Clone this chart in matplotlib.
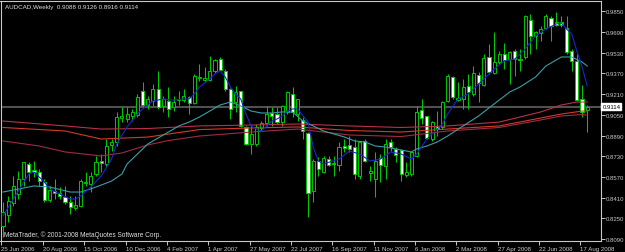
import matplotlib
matplotlib.use("Agg")
import matplotlib.pyplot as plt
import matplotlib.transforms as mtransforms
from matplotlib.patches import Rectangle

# weekly AUDCAD candles
opens = [0.8190, 0.8276, 0.8368, 0.8438, 0.8554, 0.8670, 0.8623, 0.8608, 0.8531, 0.8391,
         0.8461, 0.8446, 0.8415, 0.8376, 0.8330, 0.8345, 0.8523, 0.8515, 0.8592, 0.8693,
         0.8670, 0.8817, 0.8840, 0.9025, 0.9018, 0.9041, 0.9048, 0.9234, 0.9126, 0.9157,
         0.9250, 0.9118, 0.9157, 0.9110, 0.9164, 0.9164, 0.9188, 0.9141, 0.9334, 0.9319,
         0.9319, 0.9389, 0.9481, 0.9389, 0.9250, 0.9149, 0.9234, 0.8956, 0.8824, 0.8824,
         0.8948, 0.8987, 0.9064, 0.9056, 0.8994, 0.9072, 0.9211, 0.9056, 0.9010, 0.8909,
         0.8461, 0.8693, 0.8608, 0.8708, 0.8678, 0.8662, 0.8809, 0.8817, 0.8801, 0.8577,
         0.8848, 0.8600, 0.8554, 0.8716, 0.8654, 0.8840, 0.8786, 0.8778, 0.8585, 0.8592,
         0.8732, 0.9087, 0.9041, 0.8863, 0.8964, 0.8956, 0.9157, 0.9342, 0.9164, 0.9172,
         0.9273, 0.9211, 0.9358, 0.9280, 0.9497, 0.9373, 0.9458, 0.9520, 0.9481, 0.9543,
         0.9474, 0.9497, 0.9783, 0.9659, 0.9682, 0.9721, 0.9798, 0.9767, 0.9767, 0.9721,
         0.9543, 0.9466, 0.9172, 0.9088]
highs = [0.8376, 0.8422, 0.8577, 0.8616, 0.8685, 0.8685, 0.8693, 0.8631, 0.8554, 0.8500,
         0.8554, 0.8492, 0.8500, 0.8422, 0.8422, 0.8554, 0.8608, 0.8608, 0.8732, 0.8747,
         0.8863, 0.8863, 0.9072, 0.9110, 0.9110, 0.9095, 0.9211, 0.9304, 0.9195, 0.9288,
         0.9389, 0.9195, 0.9265, 0.9195, 0.9234, 0.9250, 0.9195, 0.9365, 0.9443, 0.9420,
         0.9505, 0.9481, 0.9497, 0.9404, 0.9257, 0.9273, 0.9234, 0.8964, 0.8971, 0.8979,
         0.9002, 0.9118, 0.9110, 0.9110, 0.9126, 0.9234, 0.9265, 0.9172, 0.9033, 0.8917,
         0.8708, 0.8724, 0.8732, 0.8732, 0.8732, 0.8840, 0.8863, 0.8886, 0.8863, 0.8848,
         0.8863, 0.8654, 0.8763, 0.8747, 0.8863, 0.8863, 0.8801, 0.8786, 0.8685, 0.8770,
         0.9118, 0.9172, 0.9041, 0.9002, 0.9079, 0.9157, 0.9365, 0.9350, 0.9304, 0.9327,
         0.9365, 0.9427, 0.9381, 0.9520, 0.9597, 0.9690, 0.9543, 0.9605, 0.9543, 0.9559,
         0.9559, 0.9818, 0.9829, 0.9698, 0.9737, 0.9829, 0.9814, 0.9845, 0.9814, 0.9814,
         0.9559, 0.9520, 0.9280, 0.9126]
lows = [0.8105, 0.8221, 0.8345, 0.8399, 0.8500, 0.8538, 0.8569, 0.8500, 0.8376, 0.8376,
        0.8399, 0.8399, 0.8361, 0.8283, 0.8314, 0.8337, 0.8500, 0.8453, 0.8577, 0.8608,
        0.8647, 0.8770, 0.8809, 0.8994, 0.8994, 0.9002, 0.9033, 0.9110, 0.9095, 0.9118,
        0.9095, 0.9072, 0.9033, 0.9079, 0.9126, 0.9149, 0.9056, 0.9134, 0.9311, 0.9304,
        0.9311, 0.9373, 0.9389, 0.9234, 0.9018, 0.9072, 0.8956, 0.8817, 0.8747, 0.8809,
        0.8925, 0.8964, 0.8964, 0.8979, 0.8964, 0.9056, 0.9033, 0.9002, 0.8863, 0.8260,
        0.8376, 0.8577, 0.8600, 0.8654, 0.8577, 0.8616, 0.8763, 0.8763, 0.8554, 0.8554,
        0.8685, 0.8538, 0.8415, 0.8531, 0.8554, 0.8770, 0.8685, 0.8538, 0.8569, 0.8577,
        0.8724, 0.8979, 0.8863, 0.8848, 0.8886, 0.8940, 0.9149, 0.9172, 0.9157, 0.9095,
        0.9095, 0.9195, 0.9149, 0.9273, 0.9365, 0.9365, 0.9443, 0.9404, 0.9288, 0.9350,
        0.9389, 0.9481, 0.9520, 0.9559, 0.9621, 0.9713, 0.9621, 0.9737, 0.9729, 0.9520,
        0.9389, 0.9157, 0.9033, 0.8916]
closes = [0.8299, 0.8384, 0.8500, 0.8554, 0.8685, 0.8608, 0.8608, 0.8538, 0.8391, 0.8469,
          0.8446, 0.8426, 0.8376, 0.8337, 0.8353, 0.8538, 0.8531, 0.8577, 0.8685, 0.8678,
          0.8809, 0.8840, 0.9033, 0.9041, 0.9056, 0.9072, 0.9188, 0.9126, 0.9172, 0.9250,
          0.9110, 0.9172, 0.9095, 0.9149, 0.9176, 0.9195, 0.9141, 0.9350, 0.9342, 0.9334,
          0.9389, 0.9474, 0.9396, 0.9250, 0.9095, 0.9226, 0.8964, 0.8824, 0.8902, 0.8956,
          0.8987, 0.9056, 0.9041, 0.8994, 0.9118, 0.9226, 0.9072, 0.9172, 0.8925, 0.8446,
          0.8693, 0.8631, 0.8716, 0.8662, 0.8670, 0.8801, 0.8793, 0.8786, 0.8592, 0.8840,
          0.8693, 0.8616, 0.8693, 0.8662, 0.8824, 0.8801, 0.8739, 0.8592, 0.8608, 0.8763,
          0.9072, 0.9025, 0.8871, 0.8994, 0.8940, 0.9149, 0.9350, 0.9188, 0.9180, 0.9265,
          0.9226, 0.9373, 0.9296, 0.9489, 0.9381, 0.9458, 0.9520, 0.9474, 0.9536, 0.9481,
          0.9485, 0.9814, 0.9659, 0.9690, 0.9713, 0.9814, 0.9737, 0.9744, 0.9744, 0.9536,
          0.9466, 0.9164, 0.9072, 0.9114]

# moving averages (at bar positions)
fast_bars = [0, 2, 5, 6, 8, 9, 11, 13, 14, 15, 17, 19, 21, 22, 24, 26, 27, 29, 31, 33,
             35, 36, 37, 38, 40, 41, 42, 43, 44, 45, 46, 47, 48, 49, 50, 51, 52, 53, 54, 55,
             56, 57, 59, 60, 61, 62, 65, 67, 69, 71, 73, 75, 77, 79, 80, 82, 85, 86, 88, 90,
             92, 95, 97, 99, 101, 103, 105, 107, 108, 109, 110, 111, 112, 113]
fast_ma = [0.8268, 0.8399, 0.8592, 0.8608, 0.8531, 0.8477, 0.8438, 0.8399, 0.8399, 0.8422,
           0.8492, 0.8577, 0.8708, 0.8824, 0.8956, 0.9056, 0.9095, 0.9157, 0.9172, 0.9164,
           0.9172, 0.9172, 0.9211, 0.9265, 0.9327, 0.9365, 0.9389, 0.9342, 0.9265, 0.9211,
           0.9172, 0.9056, 0.8964, 0.8940, 0.8925, 0.8964, 0.9002, 0.9018, 0.9041, 0.9079,
           0.9095, 0.9095, 0.8994, 0.8801, 0.8693, 0.8670, 0.8708, 0.8770, 0.8747, 0.8693,
           0.8708, 0.8763, 0.8747, 0.8708, 0.8747, 0.8863, 0.8979, 0.9056, 0.9172, 0.9211,
           0.9288, 0.9404, 0.9466, 0.9481, 0.9559, 0.9659, 0.9713, 0.9752, 0.9760, 0.9713,
           0.9675, 0.9543, 0.9420, 0.9273]
mid_bars = [0, 6, 9, 13, 15, 17, 19, 21, 23, 24, 26, 28, 30, 32, 34, 36, 38, 40, 42, 44,
            46, 48, 50, 52, 54, 56, 58, 60, 62, 64, 66, 68, 70, 72, 74, 76, 79, 80, 82, 84,
            86, 89, 92, 95, 98, 100, 103, 105, 108, 110, 112, 113]
mid_ma = [0.8453, 0.8500, 0.8492, 0.8453, 0.8453, 0.8477, 0.8507, 0.8538, 0.8592, 0.8670,
          0.8747, 0.8824, 0.8871, 0.8917, 0.8964, 0.8994, 0.9033, 0.9079, 0.9126, 0.9149,
          0.9118, 0.9079, 0.9064, 0.9064, 0.9072, 0.9072, 0.9002, 0.8964, 0.8925, 0.8902,
          0.8879, 0.8848, 0.8840, 0.8809, 0.8801, 0.8786, 0.8763, 0.8786, 0.8809, 0.8840,
          0.8886, 0.8964, 0.9041, 0.9134, 0.9226, 0.9265, 0.9342, 0.9427, 0.9497, 0.9497,
          0.9458, 0.9427]
slow_a_bars = [0, 12, 19, 28, 38, 48, 57, 67, 77, 86, 96, 104, 108, 111, 113]
slow_a = [0.9002, 0.8964, 0.8940, 0.8944, 0.8964, 0.8971, 0.8979, 0.8964, 0.8952, 0.8964,
          0.8994, 0.9072, 0.9126, 0.9149, 0.9149]
slow_b_bars = [0, 12, 19, 28, 38, 48, 57, 67, 77, 86, 96, 104, 108, 112, 113]
slow_b = [0.8952, 0.8925, 0.8863, 0.8878, 0.8936, 0.8948, 0.8956, 0.8929, 0.8917, 0.8940,
          0.8964, 0.9025, 0.9056, 0.9079, 0.9079]
slow_c_bars = [0, 7, 12, 19, 23, 28, 32, 38, 48, 57, 67, 77, 86, 96, 104, 108, 112, 113]
slow_c = [0.8848, 0.8809, 0.8763, 0.8732, 0.8755, 0.8817, 0.8851, 0.8886, 0.8917, 0.8940,
          0.8894, 0.8882, 0.8925, 0.8952, 0.9010, 0.9041, 0.9052, 0.9048]

date_labels = ["25 Jun 2006", "20 Aug 2006", "15 Oct 2006", "10 Dec 2006", "4 Feb 2007",
               "1 Apr 2007", "27 May 2007", "22 Jul 2007", "16 Sep 2007", "11 Nov 2007",
               "6 Jan 2008", "2 Mar 2008", "27 Apr 2008", "22 Jun 2008", "17 Aug 2008"]
price_ticks = [0.9850, 0.9690, 0.9530, 0.9370, 0.9210, 0.9050, 0.8890, 0.8730,
               0.8570, 0.8410, 0.8250, 0.8090]
last_price = 0.9114

green = '#00c800'
fg = '#c8c8c8'
font = 'Liberation Sans'

fig = plt.figure(figsize=(6.25, 2.53), dpi=100, facecolor='black')
ax = fig.add_axes([0.5 / 625, 11.5 / 253, 600 / 625, 240 / 253])
ax.set_facecolor('black')

# bid line
ax.axhline(last_price, color='#505050', lw=1.5, zorder=1)

body_w = 0.6
for i, (o, h, l, c) in enumerate(zip(opens, highs, lows, closes)):
    ax.vlines(i, l, h, color=green, lw=0.75, zorder=2)
    face = 'white' if c < o else 'black'
    ax.add_patch(Rectangle((i - body_w / 2, min(o, c)), body_w, max(abs(c - o), 0.0002),
                           facecolor=face, edgecolor=green, lw=0.7, zorder=3))

ax.plot(slow_a_bars, slow_a, color='#b8304c', lw=0.8, zorder=4)
ax.plot(slow_b_bars, slow_b, color='#d23a28', lw=0.8, zorder=4)
ax.plot(slow_c_bars, slow_c, color='#a02a48', lw=0.8, zorder=4)
ax.plot(mid_bars, mid_ma, color='#3a9ea5', lw=0.8, zorder=5)
ax.plot(fast_bars, fast_ma, color='#1428d0', lw=0.8, zorder=5)

ax.set_xlim(-0.48, 115.57)
ax.set_ylim(0.80784, 0.99336)

for s in ax.spines.values():
    s.set_color(fg)
    s.set_linewidth(0.8)

ax.yaxis.tick_right()
ax.set_yticks(price_ticks)
ax.set_yticklabels(['%.4f' % p for p in price_ticks], fontsize=4.3, color=fg, family=font)
ax.set_xticks([8 * k - 0.3 for k in range(len(date_labels))])
ax.set_xticklabels(date_labels, fontsize=4.4, color=fg, family=font, ha='left')
ax.tick_params(axis='both', length=3, width=0.7, color=fg, pad=1)

# current price tag on the right scale
trans = mtransforms.blended_transform_factory(ax.transAxes, ax.transData)
ax.text(1.003, last_price, '%.4f' % last_price, transform=trans, fontsize=4.3, family=font,
        color='black', va='center', ha='left',
        bbox=dict(facecolor='white', edgecolor='white', pad=0.6), zorder=10, clip_on=False)

ax.text(0.008, 0.985, 'AUDCAD,Weekly  0.9088 0.9126 0.8916 0.9114', transform=ax.transAxes,
        fontsize=4.5, family=font, color='#e0e0e0', va='top', ha='left')
ax.text(0.005, 0.012, 'MetaTrader, \u00a9 2001-2008 MetaQuotes Software Corp.', transform=ax.transAxes,
        fontsize=4.7, family=font, color='#e0e0e0', va='bottom', ha='left')

fig.savefig('out.png', dpi=100, facecolor='black')
